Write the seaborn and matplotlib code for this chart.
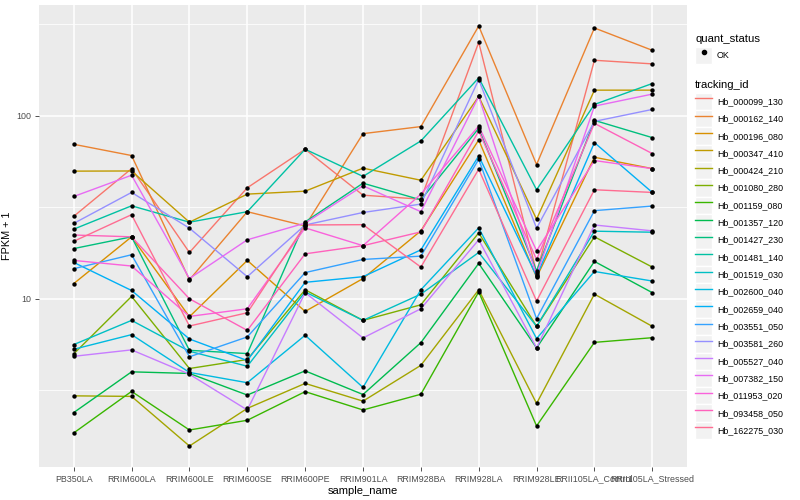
import numpy as np
import pandas as pd
import matplotlib
matplotlib.use("Agg")
import matplotlib.pyplot as plt
import seaborn as sns
from matplotlib.lines import Line2D
from matplotlib.patches import Patch
from matplotlib.ticker import FixedLocator, NullFormatter

samples = ["PB350LA", "RRIM600LA", "RRIM600LE", "RRIM600SE", "RRIM600PE", "RRIM901LA",
           "RRIM928BA", "RRIM928LA", "RRIM928LE", "RRII105LA_Control", "RRII105LA_Stressed"]

tracking_ids = ["Hb_000099_130", "Hb_000162_140", "Hb_000196_080", "Hb_000347_410", "Hb_000424_210",
                "Hb_001080_280", "Hb_001159_080", "Hb_001357_120", "Hb_001427_230", "Hb_001481_140",
                "Hb_001519_030", "Hb_002600_040", "Hb_002659_040", "Hb_003551_050", "Hb_003581_260",
                "Hb_005527_040", "Hb_007382_150", "Hb_011953_020", "Hb_093458_050", "Hb_162275_030"]

colors = ["#F8766D", "#EA8331", "#D89000", "#C09B00", "#A3A500", "#7CAE00", "#39B600", "#00BB4E",
          "#00BF7D", "#00C1A3", "#00BFC4", "#00BAE0", "#00B0F6", "#35A2FF", "#9590FF", "#C77CFF",
          "#E76BF3", "#FA62DB", "#FF62BC", "#FF6C91"]

# FPKM + 1 values per gene, in sample order
hb_000099_130 = [28.2, 51.4, 17.9, 40.4, 65.6, 36.8, 35.0, 251.6, 13.9, 200.8, 191.9]
hb_000162_140 = [69.8, 60.6, 12.7, 29.9, 25.0, 79.8, 87.2, 309.0, 54.1, 301.4, 227.6]
hb_000196_080 = [12.1, 21.8, 7.98, 16.2, 8.53, 12.9, 23.5, 73.7, 13.1, 59.3, 51.4]
hb_000347_410 = [49.8, 49.9, 26.2, 37.3, 38.7, 51.7, 44.4, 127.4, 27.2, 137.9, 137.9]
hb_000424_210 = [2.95, 2.93, 1.57, 2.52, 3.45, 2.76, 4.33, 11.2, 2.68, 10.6, 7.07]
hb_001080_280 = [5.0, 10.3, 4.16, 4.66, 11.2, 7.62, 9.27, 22.9, 7.07, 21.8, 14.9]
hb_001159_080 = [1.85, 3.12, 1.92, 2.17, 3.11, 2.47, 3.01, 10.9, 2.02, 5.78, 6.13]
hb_001357_120 = [2.39, 3.99, 3.91, 2.98, 4.04, 3.0, 5.76, 15.6, 5.39, 16.0, 10.8]
hb_001427_230 = [18.8, 21.8, 5.23, 5.02, 26.3, 42.8, 34.7, 85.3, 14.2, 94.3, 75.9]
hb_001481_140 = [24.0, 32.2, 26.2, 29.9, 65.6, 46.6, 72.8, 161.0, 39.4, 115.2, 149.9]
hb_001519_030 = [5.62, 7.62, 5.17, 4.28, 10.9, 7.62, 10.6, 17.9, 7.07, 23.4, 23.1]
hb_002600_040 = [5.30, 6.37, 3.96, 3.48, 6.32, 3.28, 11.2, 24.4, 6.06, 14.1, 12.5]
hb_002659_040 = [15.8, 11.1, 6.03, 4.60, 12.3, 13.2, 18.5, 60.3, 13.3, 71.3, 38.1]
hb_003551_050 = [14.6, 17.4, 4.82, 6.19, 13.9, 16.4, 17.1, 57.8, 7.78, 30.3, 32.1]
hb_003581_260 = [25.8, 38.1, 24.3, 13.2, 25.3, 29.6, 32.9, 157.6, 24.3, 93.1, 108.2]
hb_005527_040 = [4.85, 5.26, 3.87, 2.47, 10.8, 6.11, 8.82, 21.0, 5.39, 25.3, 23.5]
hb_007382_150 = [36.2, 47.3, 12.9, 21.0, 25.9, 41.4, 29.9, 127.4, 13.5, 112.8, 131.2]
hb_011953_020 = [16.2, 15.1, 8.01, 8.82, 24.4, 19.5, 37.3, 87.8, 18.3, 56.9, 51.4]
hb_093458_050 = [22.3, 21.8, 10.0, 6.72, 17.6, 19.5, 23.2, 82.5, 16.4, 90.8, 62.1]
hb_162275_030 = [20.6, 28.8, 7.10, 8.39, 25.3, 25.4, 14.9, 51.0, 9.72, 39.4, 38.1]

series = [hb_000099_130, hb_000162_140, hb_000196_080, hb_000347_410, hb_000424_210,
          hb_001080_280, hb_001159_080, hb_001357_120, hb_001427_230, hb_001481_140,
          hb_001519_030, hb_002600_040, hb_002659_040, hb_003551_050, hb_003581_260,
          hb_005527_040, hb_007382_150, hb_011953_020, hb_093458_050, hb_162275_030]

rows = []
for tid, vals in zip(tracking_ids, series):
    for s, v in zip(samples, vals):
        rows.append({"sample_name": s, "tracking_id": tid, "fpkm": v})
df = pd.DataFrame(rows)
df["xpos"] = df["sample_name"].map({s: i for i, s in enumerate(samples)})

plt.rcParams["font.family"] = ["Liberation Sans", "DejaVu Sans"]

fig = plt.figure(figsize=(8, 5), dpi=100)
ax = fig.add_axes([39 / 800, 33 / 500, 648 / 800, 462 / 500])
ax.set_facecolor("#EBEBEB")
ax.set_yscale("log")

pal = dict(zip(tracking_ids, colors))
sns.lineplot(data=df, x="xpos", y="fpkm", hue="tracking_id", palette=pal, hue_order=tracking_ids,
             estimator=None, sort=False, lw=1.0, legend=False, ax=ax, zorder=2)
sns.scatterplot(data=df, x="xpos", y="fpkm", color="black", s=10, marker="o", linewidth=0,
                legend=False, ax=ax, zorder=3)

lo = np.log10(df["fpkm"].min())
hi = np.log10(df["fpkm"].max())
pad = 0.05 * (hi - lo)
ax.set_ylim(10 ** (lo - pad), 10 ** (hi + pad))
ax.set_xlim(-0.6, len(samples) - 0.4)

ax.set_xticks(range(len(samples)))
ax.set_xticklabels(samples)
ax.set_yticks([10, 100])
ax.set_yticklabels(["10", "100"])
ax.yaxis.set_minor_locator(FixedLocator([10 ** 0.5, 10 ** 1.5, 10 ** 2.5]))
ax.yaxis.set_minor_formatter(NullFormatter())
ax.xaxis.set_minor_locator(FixedLocator([]))

ax.grid(which="major", color="white", lw=1.1, zorder=0)
ax.grid(which="minor", axis="y", color="white", lw=0.55, zorder=0)
ax.set_axisbelow(True)
for sp in ax.spines.values():
    sp.set_visible(False)
ax.tick_params(which="major", length=3, width=0.6, color="#333333", labelcolor="#4D4D4D",
               labelsize=6.4, pad=2.5)
ax.tick_params(which="minor", length=0)
ax.set_xlabel("sample_name", fontsize=8, labelpad=2)
ax.set_ylabel("FPKM + 1", fontsize=7.8)
ax.yaxis.set_label_coords(-27 / 648, 0.5)

# legends
key_bg = "#F2F2F2"
h_q = [(Patch(facecolor=key_bg, edgecolor="white"),
        Line2D([], [], color="black", marker="o", ms=3, ls="none"))]
leg1 = fig.legend(h_q, ["OK"], title="quant_status", loc="upper left",
                  bbox_to_anchor=(695 / 800, 1 - 34 / 500), frameon=False, fontsize=6.4,
                  title_fontsize=8.1, handlelength=1.95, handleheight=2.62, labelspacing=0,
                  handletextpad=0.5, borderpad=0, borderaxespad=0)
leg1._legend_box.align = "left"
leg1._legend_box.sep = 2

h_t = [(Patch(facecolor=key_bg, edgecolor="white"), Line2D([], [], color=c, lw=1.0)) for c in colors]
leg2 = fig.legend(h_t, tracking_ids, title="tracking_id", loc="upper left",
                  bbox_to_anchor=(695 / 800, 1 - 80 / 500), frameon=False, fontsize=6.4,
                  title_fontsize=8.1, handlelength=1.95, handleheight=2.62, labelspacing=0,
                  handletextpad=0.5, borderpad=0, borderaxespad=0)
leg2._legend_box.align = "left"
leg2._legend_box.sep = 2

fig.savefig("out.png", dpi=100)
